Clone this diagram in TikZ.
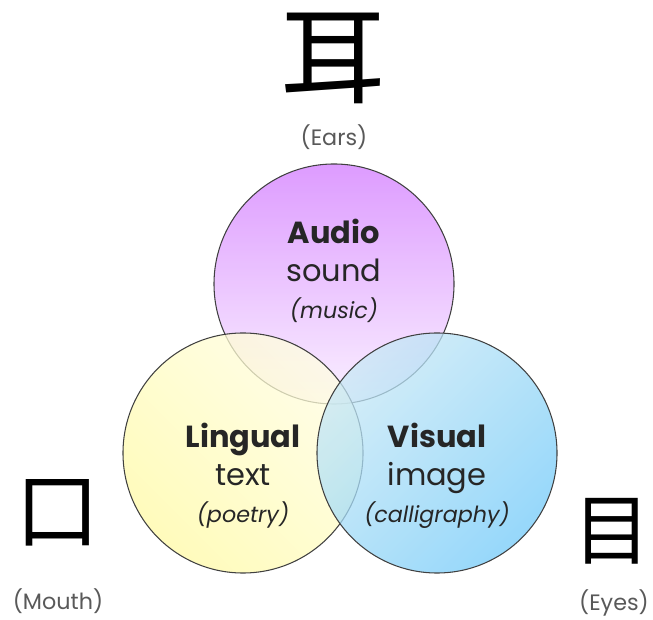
\documentclass[tikz,border=0pt]{standalone}
\usepackage{fontspec}
\setmainfont{Poppins}
\newfontfamily\cjk{Noto Sans CJK SC}
\usetikzlibrary{positioning}

\definecolor{audiotop}{RGB}{210,122,255}
\definecolor{audiobot}{RGB}{248,235,255}
\definecolor{lingdeep}{RGB}{255,250,165}
\definecolor{linglight}{RGB}{255,254,225}
\definecolor{visdeep}{RGB}{115,202,248}
\definecolor{vislight}{RGB}{200,232,246}

\tikzset{
  sense/.style={circle, minimum size=7.2cm, inner sep=0pt, draw=black!75,
    line width=0.9pt, fill opacity=0.75},
  mode/.style={align=center, text=black!85, font=\fontsize{26}{32}\selectfont},
  hanzi/.style={inner sep=0pt, font=\cjk\fontsize{90}{90}\selectfont},
  organ/.style={inner sep=0pt, text=black!65, font=\fontsize{19}{22}\selectfont}
}

\newcommand{\extra}[1]{{\fontsize{19}{32}\selectfont\itshape #1}}

\begin{document}
\begin{tikzpicture}[x=0.03cm, y=0.03cm]
  \useasboundingbox (0,0) rectangle (653,619);

  % the three circles
  \node[sense, top color=audiotop, bottom color=audiobot] (audio) at (334,335) {};
  \node[sense, shading=axis, top color=linglight, bottom color=lingdeep,
        shading angle=-45] (lingual) at (243,166) {};
  \node[sense, shading=axis, top color=vislight, bottom color=visdeep,
        shading angle=45] (visual) at (437,166) {};

  % texts in the circles
  \node[mode] (audiotext) at (334,348) {\textbf{Audio}\\sound\\\extra{(music)}};
  \node[mode] (lingualtext) at (243,143) {\textbf{Lingual}\\text\\\extra{(poetry)}};
  \node[mode] (visualtext) at (437,143) {\textbf{Visual}\\image\\\extra{(calligraphy)}};

  % characters
  \node[hanzi] (ear) at (333,561) {耳};
  \node[hanzi, font=\cjk\fontsize{72}{72}\selectfont] (mouth) at (58,106) {口};
  \node[hanzi, font=\cjk\fontsize{66}{66}\selectfont] (eye) at (612,88) {目};

  \node[organ] (earlabel) at (334,482) {(Ears)};
  \node[organ] (mouthlabel) at (58,18) {(Mouth)};
  \node[organ] (eyelabel) at (614,16) {(Eyes)};
\end{tikzpicture}
\end{document}
